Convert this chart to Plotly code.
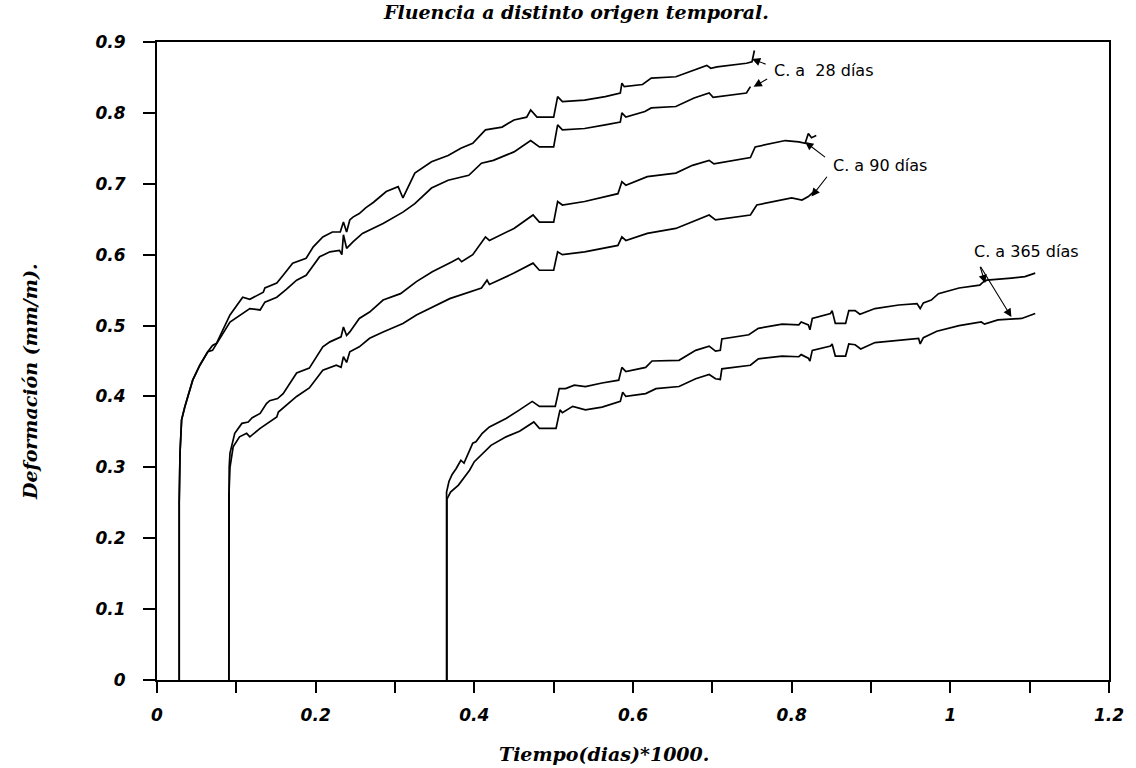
import plotly.graph_objects as go

# ---- data (x in days/1000, y in mm/m) ----
u28_x = [0.028, 0.028, 0.029, 0.031, 0.035, 0.039, 0.045, 0.054, 0.064, 0.070, 0.075, 0.092, 0.108, 0.117, 0.134, 0.136, 0.151, 0.159, 0.171, 0.188, 0.197, 0.209, 0.221, 0.231, 0.235, 0.239, 0.243, 0.247, 0.255, 0.263, 0.273, 0.289, 0.304, 0.310, 0.325, 0.346, 0.367, 0.383, 0.398, 0.414, 0.435, 0.450, 0.466, 0.471, 0.479, 0.500, 0.505, 0.511, 0.539, 0.565, 0.584, 0.586, 0.589, 0.612, 0.623, 0.654, 0.675, 0.693, 0.698, 0.706, 0.743, 0.750, 0.753]
u28_y = [0.0, 0.25, 0.32, 0.367, 0.385, 0.399, 0.423, 0.444, 0.463, 0.472, 0.475, 0.515, 0.540, 0.537, 0.547, 0.553, 0.560, 0.571, 0.588, 0.595, 0.611, 0.625, 0.632, 0.632, 0.646, 0.632, 0.649, 0.653, 0.658, 0.666, 0.674, 0.689, 0.696, 0.680, 0.715, 0.731, 0.740, 0.750, 0.757, 0.776, 0.780, 0.790, 0.794, 0.804, 0.794, 0.794, 0.823, 0.816, 0.818, 0.823, 0.828, 0.842, 0.837, 0.840, 0.849, 0.851, 0.860, 0.867, 0.863, 0.865, 0.870, 0.872, 0.888]

l28_x = [0.028, 0.028, 0.029, 0.031, 0.035, 0.039, 0.045, 0.054, 0.064, 0.070, 0.092, 0.117, 0.130, 0.136, 0.151, 0.163, 0.176, 0.188, 0.205, 0.218, 0.230, 0.233, 0.235, 0.239, 0.247, 0.259, 0.266, 0.285, 0.310, 0.325, 0.346, 0.367, 0.393, 0.409, 0.424, 0.450, 0.471, 0.482, 0.500, 0.505, 0.511, 0.539, 0.565, 0.584, 0.586, 0.591, 0.615, 0.623, 0.654, 0.677, 0.696, 0.701, 0.743, 0.748]
l28_y = [0.0, 0.25, 0.32, 0.367, 0.385, 0.399, 0.423, 0.444, 0.463, 0.465, 0.505, 0.524, 0.522, 0.533, 0.540, 0.551, 0.564, 0.571, 0.597, 0.604, 0.606, 0.600, 0.628, 0.609, 0.618, 0.630, 0.634, 0.644, 0.660, 0.672, 0.694, 0.705, 0.712, 0.729, 0.733, 0.745, 0.761, 0.752, 0.752, 0.783, 0.776, 0.778, 0.783, 0.787, 0.800, 0.794, 0.802, 0.807, 0.809, 0.821, 0.828, 0.822, 0.828, 0.837]

u90_x = [0.0906, 0.0906, 0.091, 0.092, 0.098, 0.107, 0.115, 0.120, 0.130, 0.138, 0.142, 0.152, 0.159, 0.176, 0.192, 0.209, 0.218, 0.232, 0.235, 0.239, 0.243, 0.255, 0.268, 0.285, 0.301, 0.307, 0.327, 0.347, 0.372, 0.380, 0.384, 0.398, 0.414, 0.419, 0.450, 0.474, 0.482, 0.500, 0.505, 0.511, 0.539, 0.581, 0.586, 0.591, 0.618, 0.654, 0.675, 0.696, 0.702, 0.748, 0.754, 0.775, 0.792, 0.809, 0.817, 0.821, 0.825, 0.831]
u90_y = [0.0, 0.27, 0.30, 0.320, 0.348, 0.362, 0.364, 0.370, 0.376, 0.390, 0.394, 0.397, 0.404, 0.433, 0.440, 0.470, 0.477, 0.484, 0.498, 0.486, 0.491, 0.510, 0.519, 0.536, 0.543, 0.545, 0.562, 0.576, 0.590, 0.595, 0.590, 0.600, 0.625, 0.620, 0.637, 0.656, 0.646, 0.646, 0.675, 0.670, 0.675, 0.686, 0.703, 0.698, 0.710, 0.715, 0.726, 0.733, 0.728, 0.737, 0.752, 0.757, 0.761, 0.759, 0.757, 0.771, 0.765, 0.768]

l90_x = [0.0906, 0.0906, 0.092, 0.096, 0.104, 0.113, 0.117, 0.130, 0.151, 0.153, 0.176, 0.192, 0.209, 0.226, 0.232, 0.235, 0.239, 0.243, 0.255, 0.268, 0.285, 0.310, 0.327, 0.347, 0.369, 0.409, 0.416, 0.419, 0.450, 0.474, 0.482, 0.500, 0.505, 0.511, 0.539, 0.581, 0.586, 0.591, 0.618, 0.654, 0.675, 0.696, 0.704, 0.748, 0.756, 0.779, 0.800, 0.813, 0.821, 0.828]
l90_y = [0.0, 0.26, 0.300, 0.329, 0.343, 0.348, 0.343, 0.355, 0.371, 0.378, 0.400, 0.412, 0.437, 0.444, 0.441, 0.456, 0.448, 0.463, 0.470, 0.482, 0.491, 0.503, 0.515, 0.526, 0.538, 0.553, 0.564, 0.558, 0.574, 0.588, 0.578, 0.578, 0.604, 0.600, 0.604, 0.613, 0.625, 0.620, 0.630, 0.637, 0.646, 0.656, 0.649, 0.656, 0.670, 0.675, 0.680, 0.677, 0.682, 0.689]

u365_x = [0.365, 0.365, 0.368, 0.372, 0.377, 0.383, 0.387, 0.398, 0.402, 0.410, 0.419, 0.440, 0.457, 0.473, 0.482, 0.502, 0.507, 0.515, 0.526, 0.540, 0.561, 0.582, 0.586, 0.591, 0.616, 0.624, 0.658, 0.679, 0.696, 0.704, 0.710, 0.712, 0.746, 0.758, 0.788, 0.809, 0.812, 0.821, 0.823, 0.826, 0.849, 0.851, 0.855, 0.868, 0.872, 0.880, 0.886, 0.905, 0.935, 0.958, 0.962, 0.966, 0.976, 0.985, 1.011, 1.037, 1.042, 1.046, 1.077, 1.094, 1.107]
u365_y = [0.0, 0.265, 0.280, 0.290, 0.298, 0.310, 0.306, 0.334, 0.336, 0.348, 0.357, 0.369, 0.381, 0.393, 0.386, 0.386, 0.411, 0.411, 0.416, 0.414, 0.419, 0.423, 0.441, 0.435, 0.441, 0.450, 0.451, 0.465, 0.471, 0.464, 0.465, 0.481, 0.487, 0.496, 0.502, 0.501, 0.505, 0.501, 0.494, 0.510, 0.517, 0.521, 0.503, 0.503, 0.521, 0.521, 0.516, 0.524, 0.529, 0.531, 0.524, 0.532, 0.536, 0.545, 0.553, 0.557, 0.562, 0.564, 0.567, 0.569, 0.574]

l365_x = [0.3655, 0.3655, 0.370, 0.380, 0.390, 0.394, 0.400, 0.415, 0.421, 0.440, 0.457, 0.475, 0.482, 0.503, 0.508, 0.511, 0.524, 0.540, 0.561, 0.584, 0.587, 0.591, 0.616, 0.629, 0.658, 0.679, 0.696, 0.704, 0.710, 0.712, 0.748, 0.758, 0.788, 0.809, 0.812, 0.821, 0.823, 0.826, 0.849, 0.851, 0.855, 0.868, 0.872, 0.880, 0.887, 0.905, 0.935, 0.960, 0.962, 0.966, 0.983, 1.011, 1.039, 1.043, 1.060, 1.090, 1.107]
l365_y = [0.0, 0.255, 0.265, 0.275, 0.290, 0.296, 0.308, 0.324, 0.331, 0.343, 0.351, 0.364, 0.355, 0.355, 0.381, 0.377, 0.386, 0.381, 0.385, 0.393, 0.406, 0.400, 0.404, 0.411, 0.414, 0.425, 0.431, 0.425, 0.424, 0.439, 0.444, 0.453, 0.457, 0.456, 0.459, 0.454, 0.450, 0.465, 0.471, 0.474, 0.457, 0.457, 0.474, 0.473, 0.467, 0.476, 0.479, 0.482, 0.474, 0.483, 0.492, 0.500, 0.505, 0.502, 0.508, 0.510, 0.517]

series = [(u28_x, u28_y), (l28_x, l28_y), (u90_x, u90_y), (l90_x, l90_y), (u365_x, u365_y), (l365_x, l365_y)]

label_texts = ["C. a  28 días", "C. a 90 días", "C. a 365 días"]
label_pos = [(0.775, 0.860), (0.850, 0.726), (1.027, 0.604)]
# arrows: (tail_x, tail_y, head_x, head_y)
arrows = [
    (0.769, 0.868, 0.750, 0.876),
    (0.771, 0.849, 0.752, 0.837),
    (0.844, 0.736, 0.817, 0.759),
    (0.846, 0.712, 0.825, 0.682),
    (1.037, 0.585, 1.044, 0.560),
    (1.037, 0.585, 1.077, 0.512),
]

title_text = "Fluencia a distinto origen temporal."
xtitle_text = "Tiempo(dias)*1000."
ytitle_text = "Deformación (mm/m)."

fig = go.Figure()
for sx, sy in series:
    fig.add_trace(go.Scatter(x=sx, y=sy, mode="lines",
                             line=dict(color="black", width=1.7), showlegend=False))

ann = []
for t, (px, py) in zip(label_texts, label_pos):
    ann.append(dict(x=px, y=py, xref="x", yref="y", text=t, showarrow=False,
                    xanchor="left", yanchor="middle",
                    font=dict(family="DejaVu Sans", size=16, color="black")))
for tx, ty, hx, hy in arrows:
    ann.append(dict(x=hx, y=hy, ax=tx, ay=ty, xref="x", yref="y", axref="x", ayref="y",
                    text="", showarrow=True, arrowhead=2, arrowsize=1.5, arrowwidth=1.1,
                    arrowcolor="black", standoff=0, startstandoff=0))

serif_bi = dict(family="DejaVu Serif", size=19, color="black", weight="bold", style="italic")
ann.append(dict(x=0.44, y=1.0, xref="paper", yref="paper", yshift=30, text=title_text,
                showarrow=False, xanchor="center", yanchor="middle", font=serif_bi))
ann.append(dict(x=0.47, y=0, xref="paper", yref="paper", yshift=-74, text=xtitle_text,
                showarrow=False, xanchor="center", yanchor="middle", font=serif_bi))
ann.append(dict(x=0, y=0.467, xref="paper", yref="paper", xshift=-127, text=ytitle_text,
                textangle=-90, showarrow=False, xanchor="center", yanchor="middle", font=serif_bi))

tick_font = dict(family="DejaVu Sans", size=17, color="black", weight="bold", style="italic")

fig.update_layout(
    width=1136, height=768,
    margin=dict(l=157, r=24, t=42, b=88),
    paper_bgcolor="white", plot_bgcolor="white",
    annotations=ann,
    xaxis=dict(range=[0, 1.2], dtick=0.2, tick0=0, showgrid=False, zeroline=False,
               showline=True, linecolor="black", linewidth=2, mirror=True,
               ticks="outside", ticklen=11, tickwidth=1.5, tickcolor="black",
               minor=dict(dtick=0.1, ticks="outside", ticklen=11, tickwidth=1.5, tickcolor="black"),
               tickfont=tick_font, ticklabelstandoff=8),
    yaxis=dict(range=[0, 0.9], dtick=0.1, tick0=0, showgrid=False, zeroline=False,
               showline=True, linecolor="black", linewidth=2, mirror=True,
               ticks="outside", ticklen=12, tickwidth=1.5, tickcolor="black",
               tickfont=tick_font, ticklabelstandoff=14),
)

fig.write_html("out.html")
